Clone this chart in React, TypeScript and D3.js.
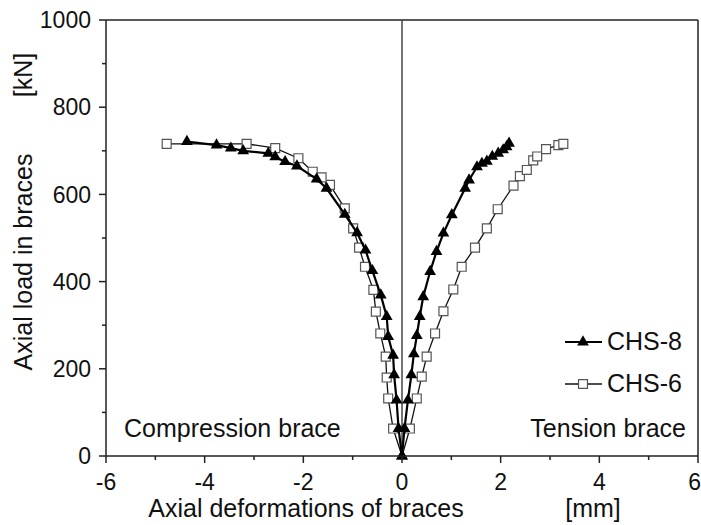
import React from 'react';
import * as d3 from 'd3';

// CHS-8 (filled triangles)
const chs8Compression: [number, number][] = [
  [0, 0], [-0.07, 63], [-0.11, 128], [-0.16, 186], [-0.18, 231], [-0.28, 274],
  [-0.31, 320], [-0.43, 369], [-0.6, 425], [-0.74, 472], [-0.91, 512], [-1.16, 554],
  [-1.53, 614], [-1.73, 635], [-2.13, 665], [-2.37, 675], [-2.57, 686], [-2.71, 694],
  [-3.22, 700], [-3.47, 706], [-3.76, 713], [-4.36, 721],
];
const chs8Tension: [number, number][] = [
  [0, 0], [0.05, 63], [0.12, 128], [0.19, 186], [0.24, 234], [0.3, 276],
  [0.36, 320], [0.43, 365], [0.57, 423], [0.7, 469], [0.84, 511], [1.01, 553],
  [1.28, 614], [1.36, 633], [1.52, 663], [1.62, 671], [1.72, 676], [1.83, 687],
  [1.95, 694], [2.05, 702], [2.12, 709], [2.17, 717],
];

// CHS-6 (open squares)
const chs6Compression: [number, number][] = [
  [0, 0], [-0.18, 63], [-0.28, 132], [-0.31, 180], [-0.33, 228], [-0.44, 281],
  [-0.53, 331], [-0.58, 381], [-0.75, 434], [-0.87, 478], [-0.99, 522], [-1.16, 568],
  [-1.46, 622], [-1.63, 639], [-1.81, 652], [-2.1, 683], [-2.57, 706], [-3.15, 716],
  [-4.77, 716],
];
const chs6Tension: [number, number][] = [
  [0, 0], [0.16, 63], [0.3, 132], [0.4, 182], [0.5, 228], [0.67, 281],
  [0.84, 332], [1.04, 382], [1.21, 434], [1.48, 478], [1.72, 522], [1.94, 566],
  [2.26, 620], [2.39, 642], [2.53, 656], [2.66, 678], [2.74, 687], [2.92, 704],
  [3.17, 713], [3.27, 716],
];

const xTicks = [-6, -4, -2, 0, 2, 4, 6];
const xMinor = [-5, -3, -1, 1, 3, 5];
const yTicks = [0, 200, 400, 600, 800, 1000];
const yMinor = [100, 300, 500, 700, 900];

const W = 701;
const H = 525;
const font = '"Liberation Sans", Arial, sans-serif';

const App: React.FC = () => {
  const x = d3.scaleLinear().domain([-6, 6]).range([106, 698]);
  const y = d3.scaleLinear().domain([0, 1000]).range([456, 20]);

  const line = d3.line<[number, number]>()
    .x(d => x(d[0]))
    .y(d => y(d[1]));

  const tri = d3.symbol(d3.symbolTriangle, 60)();
  const sq = d3.symbol(d3.symbolSquare, 80)();

  const x0 = x.range()[0], x1 = x.range()[1];
  const y0 = y.range()[0], y1 = y.range()[1];

  return (
    <svg width={W} height={H} style={{ position: 'absolute', left: 0, top: 0, background: '#fff' }}
      fontFamily={font}>
      <rect width={W} height={H} fill="#fff" />

      {/* frame */}
      <line x1={x0} x2={x1} y1={y1} y2={y1} stroke="#222" strokeWidth={1.5} />
      <line x1={x1} x2={x1} y1={y1} y2={y0} stroke="#222" strokeWidth={1.5} />
      <line x1={x(0)} x2={x(0)} y1={y1} y2={y0} stroke="#444" strokeWidth={1.5} />

      {/* CHS-6 */}
      {[chs6Compression, chs6Tension].map((s, i) => (
        <g key={'c6' + i}>
          <path d={line(s) || ''} fill="none" stroke="#111" strokeWidth={1.3} />
          {s.slice(1).map((d, j) => (
            <path key={j} d={sq || ''} transform={`translate(${x(d[0])},${y(d[1])})`}
              fill="#fff" stroke="#555" strokeWidth={1.2} />
          ))}
        </g>
      ))}

      {/* CHS-8 */}
      {[chs8Compression, chs8Tension].map((s, i) => (
        <g key={'c8' + i}>
          <path d={line(s) || ''} fill="none" stroke="#000" strokeWidth={2.2} />
          {s.map((d, j) => (
            <path key={j} d={tri || ''} transform={`translate(${x(d[0])},${y(d[1])})`}
              fill="#000" />
          ))}
        </g>
      ))}

      {/* axes */}
      <line x1={x0} x2={x1} y1={y0} y2={y0} stroke="#222" strokeWidth={1.5} />
      <line x1={x0} x2={x0} y1={y1} y2={y0} stroke="#222" strokeWidth={1.5} />
      {xTicks.map(t => (
        <g key={'xt' + t}>
          <line x1={x(t)} x2={x(t)} y1={y0} y2={y0 + 7} stroke="#222" strokeWidth={1.5} />
          <text x={t === 6 ? W : x(t)} y={y0 + 34} textAnchor={t === 6 ? 'end' : 'middle'}
            fontSize={23} fill="#111">{t}</text>
        </g>
      ))}
      {xMinor.map(t => (
        <line key={'xm' + t} x1={x(t)} x2={x(t)} y1={y0} y2={y0 + 4} stroke="#222" strokeWidth={1.5} />
      ))}
      {yTicks.map(t => (
        <g key={'yt' + t}>
          <line x1={x0 - 7} x2={x0} y1={y(t)} y2={y(t)} stroke="#222" strokeWidth={1.5} />
          <text x={x0 - 15} y={y(t)} dy="0.36em" textAnchor="end" fontSize={23} fill="#111">{t}</text>
        </g>
      ))}
      {yMinor.map(t => (
        <line key={'ym' + t} x1={x0 - 4} x2={x0} y1={y(t)} y2={y(t)} stroke="#222" strokeWidth={1.5} />
      ))}

      {/* axis titles */}
      <text x={306} y={517} textAnchor="middle" fontSize={25} fill="#111">Axial deformations of braces</text>
      <text x={593} y={517} textAnchor="middle" fontSize={25} fill="#111">[mm]</text>
      <text transform="translate(32,262) rotate(-90)" textAnchor="middle" fontSize={25} fill="#111">Axial load in braces</text>
      <text transform="translate(32,75) rotate(-90)" textAnchor="middle" fontSize={25} fill="#111">[kN]</text>

      {/* annotations */}
      <text x={124} y={437} fontSize={25} fill="#111">Compression brace</text>
      <text x={686} y={437} textAnchor="end" fontSize={25} fill="#111">Tension brace</text>

      {/* legend */}
      <line x1={565} x2={602} y1={342} y2={342} stroke="#000" strokeWidth={2.2} />
      <path d={tri || ''} transform="translate(583,342)" fill="#000" />
      <text x={607} y={350} fontSize={25} fill="#111">CHS-8</text>
      <line x1={565} x2={602} y1={384} y2={384} stroke="#111" strokeWidth={1.3} />
      <path d={sq || ''} transform="translate(583,384)" fill="#fff" stroke="#555" strokeWidth={1.2} />
      <text x={607} y={392} fontSize={25} fill="#111">CHS-6</text>
    </svg>
  );
};

export default App;
